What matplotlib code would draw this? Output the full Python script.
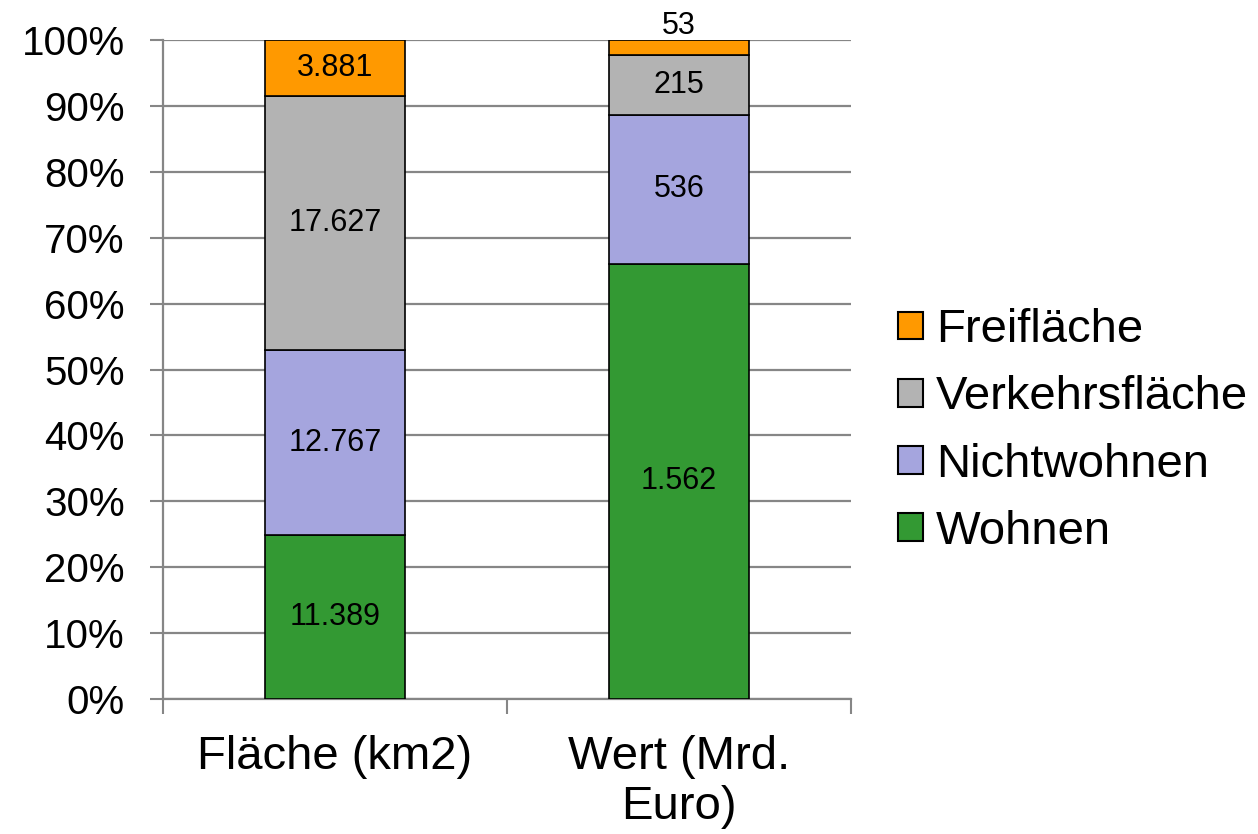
import matplotlib.pyplot as plt
import numpy as np
from matplotlib.patches import Rectangle

plt.rcParams['font.family'] = ['Liberation Sans', 'DejaVu Sans']

# Daten: Fläche in km2, Wert in Mrd. Euro
kategorien = ['Fläche (km2)', 'Wert (Mrd.\nEuro)']
nutzungen = ['Wohnen', 'Nichtwohnen', 'Verkehrsfläche', 'Freifläche']
flaeche = [11389, 12767, 17627, 3881]
wert = [1562, 536, 215, 53]
farben = ['#339933', '#a5a5de', '#b3b3b3', '#ff9900']

werte = np.array([flaeche, wert], dtype=float)
anteile = werte / werte.sum(axis=1, keepdims=True) * 100

def de_format(v):
    return f'{int(v):,}'.replace(',', '.')

fig = plt.figure(figsize=(12.58, 8.34), dpi=100)
ax = fig.add_axes([0.1296, 0.1619, 0.6765 - 0.1296, 0.952 - 0.1619])

x = np.arange(len(kategorien))
breite = 0.407
unten = np.zeros(len(kategorien))
for i, name in enumerate(nutzungen):
    ax.bar(x, anteile[:, i], breite, bottom=unten, color=farben[i],
           edgecolor='black', linewidth=1.2, zorder=3, label=name)
    for j in range(len(kategorien)):
        h = anteile[j, i]
        text = de_format(werte[j, i])
        if h < 4:
            # kleine Segmente: Beschriftung über dem Balken
            ax.annotate(text, (x[j], unten[j] + h), xytext=(0, -1),
                        textcoords='offset points', ha='center', va='bottom',
                        fontsize=22, zorder=4, annotation_clip=False)
        else:
            ax.text(x[j], unten[j] + h / 2, text, ha='center', va='center',
                    fontsize=22, zorder=4)
    unten += anteile[:, i]

ax.set_xlim(-0.5, 1.5)
ax.set_ylim(0, 100)
ax.set_yticks(np.arange(0, 101, 10))
ax.set_yticklabels([f'{v}%' for v in range(0, 101, 10)], fontsize=29)
ax.set_xticks(x)
ax.set_xticklabels(kategorien, fontsize=34, linespacing=1.18)
ax.set_xticks([-0.5, 0.5, 1.5], minor=True)
ax.tick_params(axis='x', which='major', length=0, pad=26)
ax.tick_params(axis='x', which='minor', length=11, width=1.5, color='#868686')
ax.tick_params(axis='y', length=9.5, width=1.5, color='#868686', pad=18)

ax.grid(axis='y', color='#868686', linewidth=1.6, zorder=0)
for s in ['top', 'right']:
    ax.spines[s].set_visible(False)
for s in ['left', 'bottom']:
    ax.spines[s].set_color('#868686')
    ax.spines[s].set_linewidth(1.6)

# Legende rechts, Freifläche oben
handles = [Rectangle((0, 0), 1, 1, facecolor=farben[i], edgecolor='black', linewidth=1.5)
           for i in range(len(nutzungen))][::-1]
fig.legend(handles, nutzungen[::-1], loc='center left',
           bbox_to_anchor=(898 / 1258, 1 - 431 / 834), frameon=False,
           fontsize=34, handlelength=0.53, handleheight=0.53,
           handletextpad=0.28, labelspacing=0.49, borderpad=0, borderaxespad=0)

fig.savefig('out.png', dpi=100)
